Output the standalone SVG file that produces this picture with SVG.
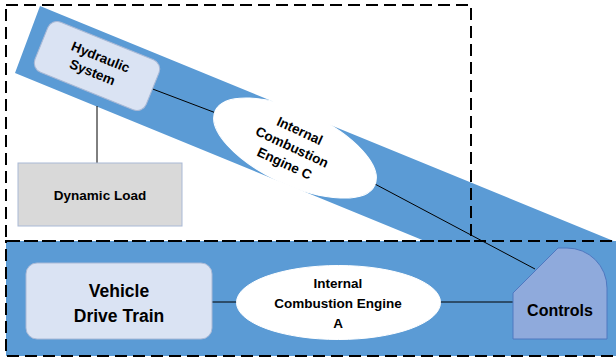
<svg xmlns="http://www.w3.org/2000/svg" width="616" height="358" viewBox="0 0 616 358">
<style>
.band{fill:#5B9BD5}
.dash{fill:none;stroke:#000;stroke-width:2;stroke-dasharray:12 6}
.conn{stroke:#000;stroke-width:1;fill:none}
.box{fill:#DAE3F3;stroke:#A9B9D6;stroke-width:1}
.ell{fill:#fff;stroke:#fff;stroke-width:1}
.t{font-family:"Liberation Sans",Arial,sans-serif;font-weight:bold;fill:#000;text-anchor:middle}
</style>
<rect width="616" height="358" fill="#fff"/>
<g id="background">
<polygon class="band" points="40,6 616,242 616,260 440,260 440,247.3 15,73"/>
<rect class="band" x="6" y="241" width="612" height="115"/>
</g>
<g id="connectors">
<line class="conn" x1="97" y1="106" x2="97" y2="163"/>
<line class="conn" x1="150" y1="88" x2="216" y2="113"/>
<line class="conn" x1="373" y1="183" x2="535" y2="269"/>
<line class="conn" x1="212" y1="302" x2="237" y2="302"/>
<line class="conn" x1="440" y1="302" x2="513" y2="302"/>
</g>
<g id="groups">
<rect class="dash" x="6" y="5" width="465" height="236"/>
<rect class="dash" x="6" y="241" width="615" height="115"/>
</g>
<g id="hydraulic" transform="translate(97,66) rotate(22)">
<rect class="box" x="-60" y="-27" width="120" height="54" rx="10"/>
<text class="t" font-size="13.5" x="0" y="-5">Hydraulic</text>
<text class="t" font-size="13.5" x="-2" y="12">System</text>
</g>
<g id="engineC" transform="translate(295,148) rotate(25)">
<ellipse class="ell" cx="0" cy="0" rx="88" ry="37"/>
<text class="t" font-size="13.5" x="-3" y="-13">Internal</text>
<text class="t" font-size="13.5" x="-3" y="5">Combustion</text>
<text class="t" font-size="13.5" x="-3" y="23">Engine C</text>
</g>
<g id="dynamicLoad">
<rect x="18" y="163" width="164" height="63" fill="#D9D9D9" stroke="#A9B9D6" stroke-width="1"/>
<text class="t" font-size="13.5" x="100" y="200">Dynamic Load</text>
</g>
<g id="driveTrain">
<rect class="box" x="26" y="263" width="186" height="76" rx="11"/>
<text class="t" font-size="17.5" x="119" y="297">Vehicle</text>
<text class="t" font-size="17.5" x="119" y="322">Drive Train</text>
</g>
<g id="engineA">
<ellipse class="ell" cx="338.5" cy="302.5" rx="102" ry="37"/>
<text class="t" font-size="13.5" x="338" y="288">Internal</text>
<text class="t" font-size="13.5" x="338" y="308">Combustion Engine</text>
<text class="t" font-size="13.5" x="338" y="328">A</text>
</g>
<g id="controls">
<path d="M513,339 L513,293 L558,248 L567,248 A40,40 0 0 1 607,288 L607,339 Z" fill="#8FAADC" stroke="#4F78C0" stroke-width="1"/>
<text class="t" font-size="16" x="560" y="316">Controls</text>
</g>
</svg>
